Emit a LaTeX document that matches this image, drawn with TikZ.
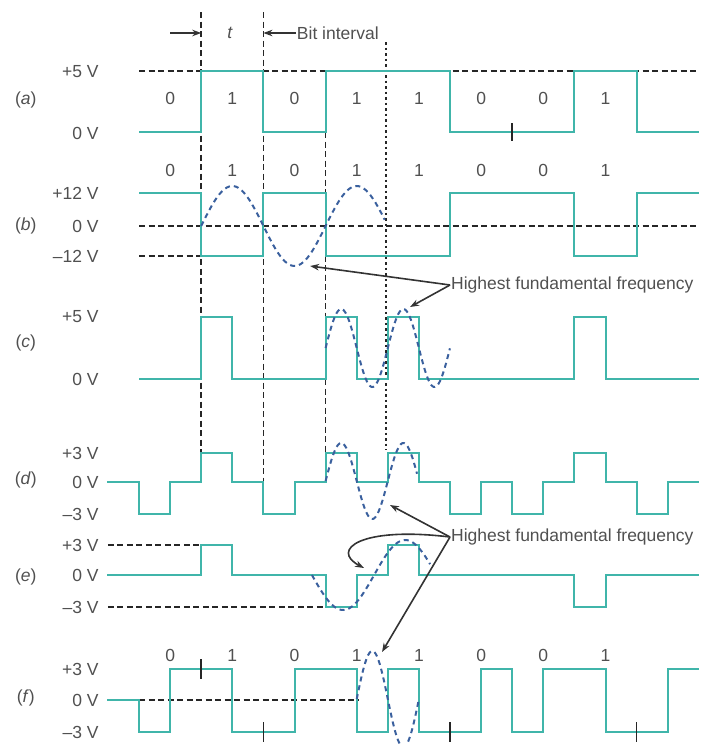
\documentclass[tikz,border=0pt]{standalone}
\usepackage{fontspec}
\setmainfont{Liberation Sans}
\usetikzlibrary{arrows.meta}
\definecolor{waveteal}{RGB}{64,181,170}
\definecolor{fitblue}{RGB}{58,96,158}
\definecolor{labelgray}{RGB}{80,80,80}

\begin{document}
\begin{tikzpicture}[x={(62.2pt,0pt)}, y={(0pt,-1pt)},
  >={Stealth[length=9pt,width=6.5pt]},
  every node/.style={font=\fontsize{17.5}{20}\selectfont, text=labelgray, inner sep=1pt},
  wave/.style={waveteal, line width=2pt},
  fit/.style={fitblue, line width=2pt, dash pattern=on 5pt off 4pt},
  guide/.style={black!85, line width=1.5pt, dash pattern=on 6pt off 3.5pt},
  tick/.style={black!85, line width=1.5pt},
  pointer/.style={->, black!80, line width=1.6pt},
  level/.style={anchor=east}]

\useasboundingbox (-2.235,0) rectangle (9.116,744);

% x counts bit intervals, y counts pixels downwards
\def\lv{-0.63}  % right edge of the level labels
\def\rw{-1.82}  % row letters

% Bit boundaries
\draw[guide] (1,12) -- (1,452);
\draw[guide] (2,12) -- (2,482);
\draw[guide] (3,132) -- (3,452);
\draw[guide, dash pattern=on 2.5pt off 3pt] (3.97,42) -- (3.97,450);

% Bit interval
\node (tlabel) at (1.463,33) {\textit{t}};
\coordinate (tfrom) at (0.5,33);
\coordinate (tto) at (1,33);
\draw[pointer] (tfrom) -- (tto);
\node[anchor=west] (bitint) at (2.52,33) {Bit interval};
\coordinate (bitto) at (2,33);
\draw[pointer] (bitint) -- (bitto);

% Bits
\foreach \b [count=\i from 0] in {0,1,0,1,1,0,0,1} {
  \node (bitA\i) at (\i+0.5,98) {\b};
  \node (bitB\i) at (\i+0.5,170) {\b};
  \node (bitF\i) at (\i+0.5,655) {\b};
}

% Level labels
\foreach \txt/\yy [count=\n] in {+5 V/72, 0 V/133, +12 V/193, 0 V/226, –12 V/256,
    +5 V/317, 0 V/379, +3 V/453, 0 V/482, –3 V/514, +3 V/545, 0 V/575, –3 V/607,
    +3 V/669, 0 V/700, –3 V/732}
  \node[level] (lv\n) at (\lv,\yy) {\txt};
\foreach \r/\yy in {a/100, b/226, c/343, d/480, e/577, f/698}
  \node (row\r) at (\rw,\yy) {(\textit{\r})};

% (a) unipolar NRZ
\draw[guide] (0,71) -- (9,71);
\draw[wave] (0,132) -| (1,71) -| (2,132) -| (3,71) -| (5,132) -| (7,71) -| (8,132) -- (9,132);
\draw[tick] (6,123) -- (6,141);

% (b) polar NRZ
\draw[guide] (0,226) -- (9,226);
\draw[guide] (0,256) -- (1,256);
\draw[wave] (0,193) -| (1,256) -| (2,193) -| (3,256) -| (5,193) -| (7,256) -| (8,193) -- (9,193);
\draw[fit] plot[domain=1:3.95, samples=80] (\x,{226-40*sin(180*(\x-1))});

% (c) unipolar RZ
\draw[wave] (0,379) -| (1,317) -| (1.5,379) -| (3,317) -| (3.5,379) -| (4,317) -| (4.5,379)
  -| (7,317) -| (7.5,379) -- (9,379);
\draw[fit] plot[domain=3:5, samples=100] (\x,{348-39*sin(360*(\x-3))});

% (d) bipolar RZ
\draw[wave] (-0.51,482) -| (0,514) -| (0.5,482) -| (1,453) -| (1.5,482) -| (2,514) -| (2.5,482)
  -| (3,453) -| (3.5,482) -| (4,453) -| (4.5,482) -| (5,514) -| (5.5,482) -| (6,514) -| (6.5,482)
  -| (7,453) -| (7.5,482) -| (8,514) -| (8.5,482) -- (9,482);
\draw[fit] plot[domain=3:4.47, samples=80] (\x,{481-38*sin(360*(\x-3))});

% (e) AMI
\draw[guide] (-0.5,545) -- (1,545);
\draw[guide] (-0.5,607) -- (3,607);
\draw[wave] (-0.51,575) -| (1,545) -| (1.5,575) -| (3,607) -| (3.5,575) -| (4,545) -| (4.5,575)
  -| (7,607) -| (7.5,575) -- (9,575);
\draw[fit] plot[domain=2.78:4.68, samples=80] (\x,{575+35*sin(180*(\x-2.78))});

% (f) Manchester
\draw[guide] (0,700) -- (3.52,700);
\draw[wave] (-0.51,700) -| (0,732) -| (0.5,669) -| (1.5,732) -| (2.5,669) -| (3.5,732) -| (4,669)
  -| (4.5,732) -| (5.5,669) -| (6,732) -| (6.5,669) -| (7.5,732) -| (8.5,669) -- (9,669);
\foreach \t/\h in {1/669, 2/732, 5/732, 8/732}
  \draw[tick] (\t,\h-10) -- (\t,\h+10);
\draw[fit] plot[domain=3.5:4.5, samples=60] (\x,{699-48*sin(360*(\x-3.5))});

% Highest fundamental frequency
\node[anchor=west] (hffA) at (5.0,285) {Highest fundamental frequency};
\coordinate (troughB) at (2.75,266);
\coordinate (peakC) at (4.357,307);
\draw[pointer] (hffA.west) -- (troughB);
\draw[pointer] (hffA.west) -- (peakC);

\node[anchor=west] (hffB) at (5.0,537) {Highest fundamental frequency};
\coordinate (troughD) at (4.035,505);
\coordinate (dipE) at (3.617,568);
\coordinate (peakF) at (3.907,652);
\draw[pointer] (hffB.west) -- (troughD);
\draw[pointer] (hffB.west) .. controls (3.553,526) and (3.071,550) .. (dipE);
\draw[pointer] (hffB.west) -- (peakF);

\end{tikzpicture}
\end{document}
